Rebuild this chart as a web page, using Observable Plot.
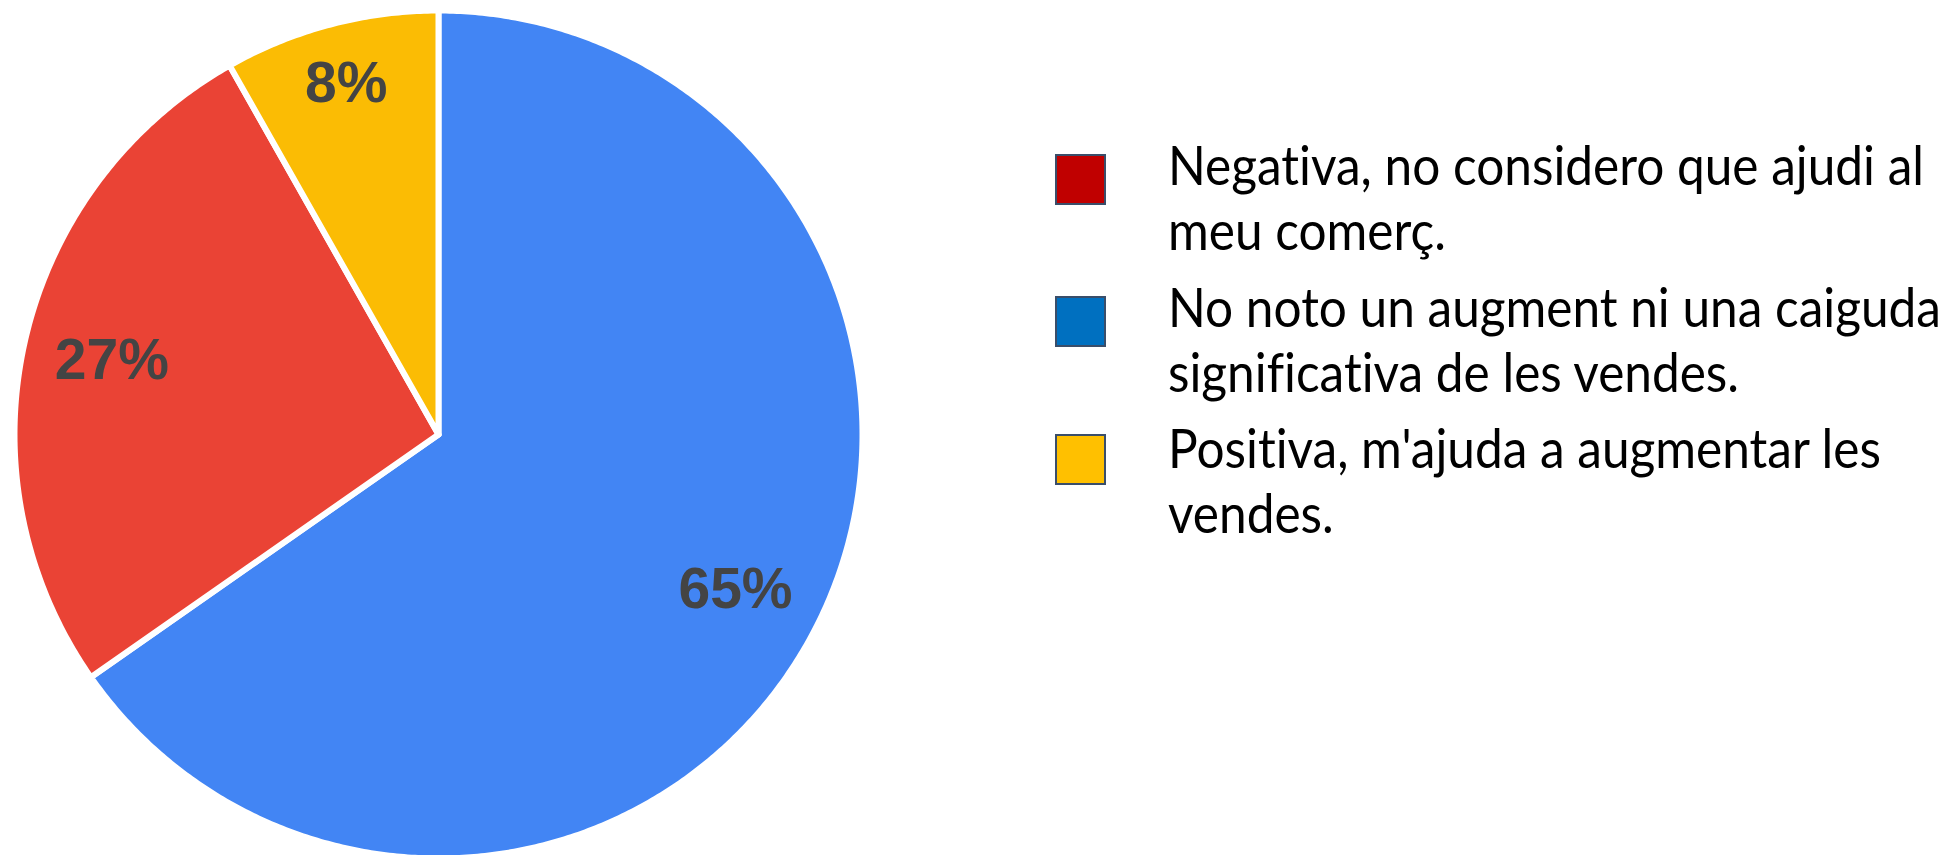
<!DOCTYPE html>
<html>
<head>
<meta charset="utf-8">
<script src="https://cdn.jsdelivr.net/npm/d3@7"></script>
<script src="https://cdn.jsdelivr.net/npm/@observablehq/plot@0.6"></script>
<style>
  html, body { margin: 0; padding: 0; background: #fff; }
  #wrap { position: relative; width: 1949px; height: 855px; overflow: hidden; }
  #chart { position: absolute; left: 0; top: 0; }
  .legend { position: absolute; left: 1055px; top: 0; width: 894px; height: 855px; font-family: Lato, "Liberation Sans", sans-serif; font-size: 54px; line-height: 65px; color: #000; font-variant-ligatures: none; font-feature-settings: "liga" 0, "clig" 0; }
  .item { position: absolute; left: 0; width: 894px; height: 140px; }
  .swatch { position: absolute; left: 0; width: 47px; height: 47px; border: 2px solid #3A4E6A; }
  .label { position: absolute; left: 113px; top: 0; width: max-content; transform-origin: 0 0; }
  .line { display: block; white-space: pre; }
</style>
</head>
<body>
<div id="wrap">
  <div id="chart"></div>
  <div class="legend" id="legend"></div>
</div>
<script>
// ---- data ----
const categories = ["Negativa", "No noto", "Positiva"];
const legendText = [
  ["Negativa, no considero que ajudi al", "meu comerç."],
  ["No noto un augment ni una caiguda", "significativa de les vendes."],
  ["Positiva, m'ajuda a augmentar les", "vendes."]
];
const values = [26.5, 65.3, 8.2]; // percent
const pieOrder = ["No noto", "Negativa", "Positiva"]; // clockwise from 12 o'clock
const pieColors = {"Negativa": "#EA4335", "No noto": "#4285F4", "Positiva": "#FBBC04"};
const legendColors = {"Negativa": "#C00000", "No noto": "#0070C0", "Positiva": "#FFC000"};

// ---- pie geometry (data space: unit circle) ----
const ordered = pieOrder.map(c => ({key: c, value: values[categories.indexOf(c)]}));
const total = d3.sum(ordered, d => d.value);
const arcs = d3.pie().sort(null).value(d => d.value)(ordered);

const slices = arcs.map(a => {
  const pts = [{x: 0, y: 0}];
  const n = Math.max(2, Math.ceil((a.endAngle - a.startAngle) / (Math.PI / 360)));
  for (let i = 0; i <= n; i++) {
    const t = a.startAngle + (a.endAngle - a.startAngle) * i / n;
    pts.push({x: Math.sin(t), y: Math.cos(t)});
  }
  pts.push({x: 0, y: 0});
  return {key: a.data.key, pts};
});

const labels = arcs.map(a => {
  const mid = (a.startAngle + a.endAngle) / 2;
  const share = a.data.value / total;
  const r = share < 0.1 ? 0.855 : 0.79;
  return {x: r * Math.sin(mid), y: r * Math.cos(mid), text: Math.round(share * 100) + "%"};
});

const plot = Plot.plot({
  width: 1949,
  height: 855,
  margin: 0,
  x: {domain: [-1, 1], range: [14, 862], axis: null},
  y: {domain: [-1, 1], range: [858, 10], axis: null},
  marks: [
    ...slices.map(s => Plot.line(s.pts, {
      x: "x", y: "y", fill: pieColors[s.key], stroke: "white",
      strokeWidth: 6, strokeLinejoin: "round", curve: "linear"
    })),
    Plot.text(labels, {
      x: "x", y: "y", text: "text", fontSize: 57, fontWeight: "bold",
      fill: "#444444", fontFamily: "'Liberation Sans', Arial, sans-serif"
    })
  ]
});
document.getElementById("chart").appendChild(plot);

// ---- legend ----
const legend = document.getElementById("legend");
const itemTops = [132, 274, 415];
const labs = [];
categories.forEach((c, i) => {
  const item = document.createElement("div");
  item.className = "item";
  item.style.top = itemTops[i] + "px";
  const sw = document.createElement("div");
  sw.className = "swatch";
  sw.style.top = (i === 2 ? 19 : 22) + "px";
  sw.style.background = legendColors[c];
  const lab = document.createElement("div");
  lab.className = "label";
  legendText[i].forEach(t => {
    const s = document.createElement("span");
    s.className = "line";
    s.textContent = t;
    lab.appendChild(s);
  });
  item.appendChild(sw);
  item.appendChild(lab);
  legend.appendChild(item);
  labs.push(lab);
});
// condense the text horizontally to mimic the narrow original face
const targetWidth = 756;
const w = labs[0].getBoundingClientRect().width;
const sx = Math.min(1, targetWidth / w);
labs.forEach(l => l.style.transform = `scaleX(${sx})`);
</script>
</body>
</html>
